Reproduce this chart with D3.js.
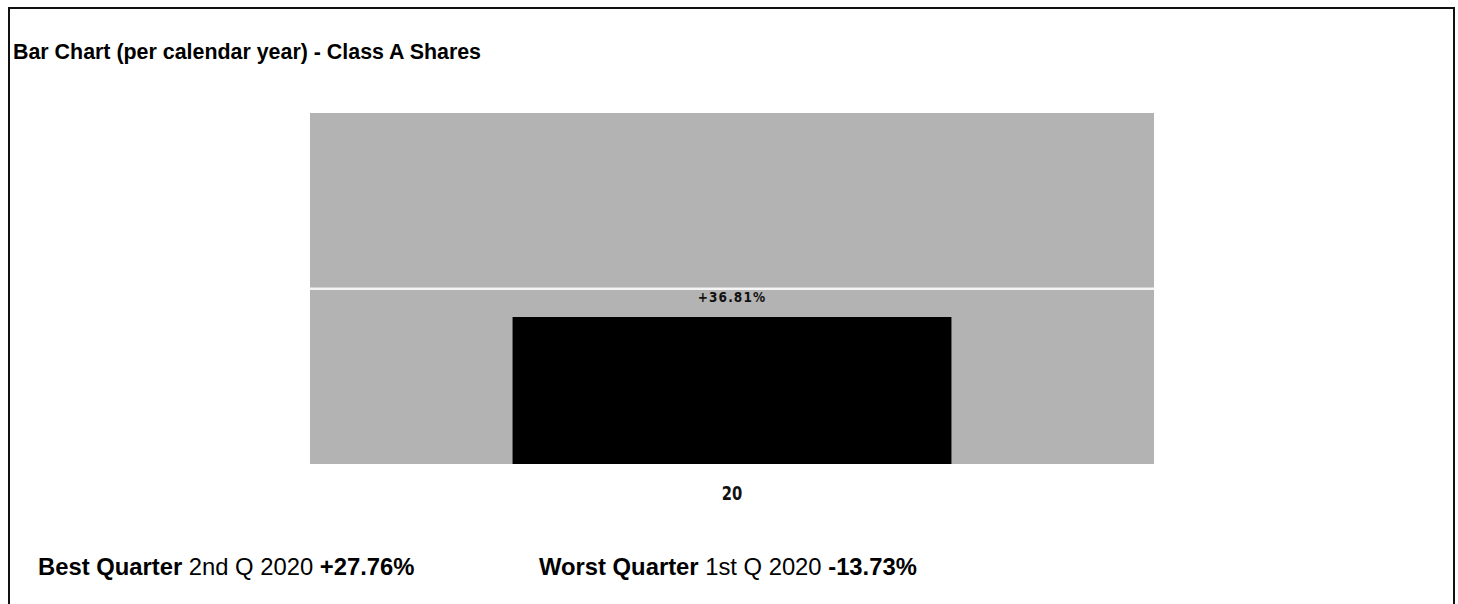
<!DOCTYPE html>
<html>
<head>
<meta charset="utf-8">
<script src="https://cdn.jsdelivr.net/npm/d3@7"></script>
<style>
  html, body { margin: 0; padding: 0; background: #fff; }
  svg { display: block; }
</style>
</head>
<body>
<svg id="chart" width="1458" height="604"></svg>
<script>
// Annual total return, Class A shares
const years = ["20"];
const returns = [36.81];
const returnLabels = ["+36.81%"];
// Value axis extent and reference gridline
const yMax = 87.9;
const gridValues = [43.9];

const bestQuarter = { label: "Best Quarter", period: "2nd Q 2020", value: "+27.76%" };
const worstQuarter = { label: "Worst Quarter", period: "1st Q 2020", value: "-13.73%" };

const svg = d3.select("#chart");
const W = 1458, H = 604;

// Outer frame
svg.append("rect")
  .attr("x", 9).attr("y", 8).attr("width", 1445).attr("height", H + 10)
  .attr("fill", "none").attr("stroke", "#111").attr("stroke-width", 2);

svg.append("text")
  .attr("x", 13).attr("y", 59)
  .attr("font-family", "Liberation Sans, Arial, sans-serif")
  .attr("font-weight", "bold").attr("font-size", 21.4)
  .attr("fill", "#000")
  .text("Bar Chart (per calendar year) - Class A Shares");

// Plot area
const plot = { left: 310, right: 1154, top: 113, bottom: 464 };

const x = d3.scaleBand()
  .domain(years)
  .range([plot.left, plot.right])
  .paddingInner(0.48).paddingOuter(0.24);

const y = d3.scaleLinear()
  .domain([0, yMax])
  .range([plot.bottom, plot.top]);

const g = svg.append("g");

g.append("rect")
  .attr("x", plot.left).attr("y", plot.top)
  .attr("width", plot.right - plot.left).attr("height", plot.bottom - plot.top)
  .attr("fill", "#b3b3b3");

g.selectAll("line.grid")
  .data(gridValues)
  .join("line")
  .attr("class", "grid")
  .attr("x1", plot.left).attr("x2", plot.right)
  .attr("y1", d => y(d)).attr("y2", d => y(d))
  .attr("stroke", "#f4f4f4").attr("stroke-width", 2.5);

g.selectAll("rect.bar")
  .data(returns)
  .join("rect")
  .attr("class", "bar")
  .attr("x", (d, i) => x(years[i]))
  .attr("width", x.bandwidth())
  .attr("y", d => y(d))
  .attr("height", d => y(0) - y(d))
  .attr("fill", "#000");

// Value labels sit above each bar with a gray backing that breaks the gridline
const labels = g.selectAll("g.vlabel")
  .data(returns)
  .join("g")
  .attr("class", "vlabel")
  .attr("transform", (d, i) => `translate(${x(years[i]) + x.bandwidth() / 2},${y(d) - 20})`);

labels.append("rect")
  .attr("x", -42).attr("y", -7).attr("width", 84).attr("height", 14)
  .attr("fill", "#b3b3b3");

labels.append("text")
  .attr("text-anchor", "middle").attr("dy", "0.35em")
  .attr("font-family", "DejaVu Sans Condensed, DejaVu Sans, sans-serif")
  .attr("font-weight", "bold").attr("font-size", 13.5)
  .attr("letter-spacing", 1.1)
  .attr("fill", "#111")
  .text((d, i) => returnLabels[i]);

// Category axis
const xAxis = d3.axisBottom(x).tickSize(0).tickPadding(0);
const axisG = svg.append("g")
  .attr("transform", `translate(0,${plot.bottom})`)
  .call(xAxis);
axisG.select(".domain").remove();
axisG.selectAll(".tick text")
  .attr("y", 0).attr("dy", 0)
  .attr("transform", "translate(0,36) scale(0.82,1)")
  .attr("font-family", "DejaVu Sans Condensed, DejaVu Sans, sans-serif")
  .attr("font-weight", "bold").attr("font-size", 20)
  .attr("fill", "#111");

// Best / worst quarter footer
function footer(xPos, info) {
  const t = svg.append("text")
    .attr("x", xPos).attr("y", 575)
    .attr("font-family", "Liberation Sans, Arial, sans-serif")
    .attr("font-size", 23.8).attr("fill", "#000");
  t.append("tspan").attr("font-weight", "bold").text(info.label);
  t.append("tspan").text(" " + info.period + " ");
  t.append("tspan").attr("font-weight", "bold").text(info.value);
}
footer(38, bestQuarter);
footer(539, worstQuarter);
</script>
</body>
</html>
